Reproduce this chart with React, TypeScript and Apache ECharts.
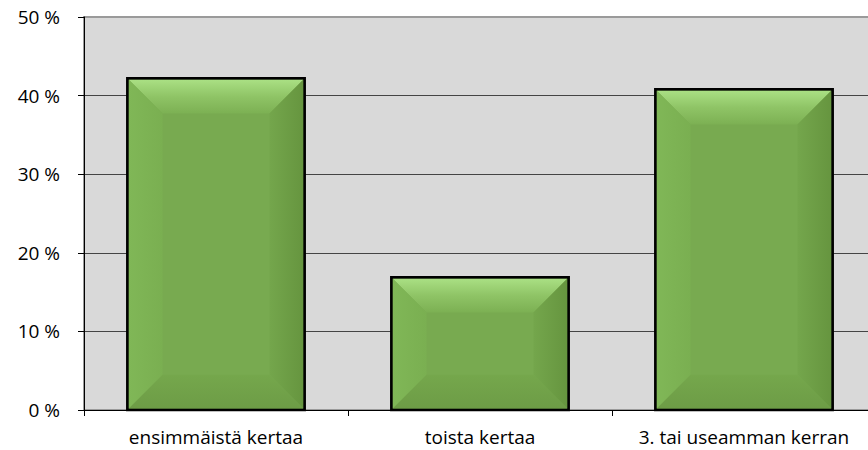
import React, { useEffect, useRef } from "react";
import * as echarts from "echarts";

const categories = ["ensimmäistä kertaa", "toista kertaa", "3. tai useamman kerran"];
const values = [42.2, 16.9, 40.8];
const yTicks = [0, 10, 20, 30, 40, 50];

const FONT = "'Open Sans', 'Liberation Sans', sans-serif";

export default function App() {
  const ref = useRef<HTMLDivElement>(null);
  useEffect(() => {
    if (!ref.current) return;
    const chart = echarts.init(ref.current, undefined, { renderer: "svg" });
    const barFrac = 0.672;
    chart.setOption({
      animation: false,
      backgroundColor: "#ffffff",
      grid: {
        left: 84,
        top: 17,
        right: 4,
        height: 393,
        show: true,
        backgroundColor: "#d9d9d9",
        borderColor: "#9a9a9a",
        borderWidth: 2,
      },
      xAxis: {
        type: "category",
        data: categories,
        boundaryGap: true,
        axisLine: { show: true, lineStyle: { color: "#000", width: 1 } },
        axisTick: { show: true, length: 6, lineStyle: { color: "#000" } },
        axisLabel: {
          color: "#000",
          fontFamily: FONT,
          fontSize: 19,
          margin: 17,
          interval: 0,
          hideOverlap: false,
        },
      },
      yAxis: {
        type: "value",
        min: yTicks[0],
        max: yTicks[yTicks.length - 1],
        interval: 10,
        axisLine: { show: true, lineStyle: { color: "#000", width: 1 } },
        axisTick: { show: true, length: 6, lineStyle: { color: "#000" } },
        axisLabel: {
          color: "#000",
          fontFamily: FONT,
          fontSize: 19,
          margin: 24,
          formatter: (v: number) => `${v} %`,
        },
        splitLine: { show: true, showMaxLine: false, lineStyle: { color: "#444", width: 1 } },
      },
      series: [
        {
          type: "bar",
          data: values,
          barWidth: barFrac * 100 + "%",
          itemStyle: { color: "#78aa50", borderColor: "#000", borderWidth: 2.5 },
          z: 2,
        },
        {
          type: "custom",
          data: values.map((v, i) => [i, v]),
          z: 3,
          silent: true,
          renderItem: (params: any, api: any) => {
            const idx = api.value(0);
            const val = api.value(1);
            const top = api.coord([idx, val]);
            const bot = api.coord([idx, 0]);
            const w = api.size([1, 0])[0] * barFrac;
            const inset = 1.25;
            const x0 = top[0] - w / 2 + inset;
            const x1 = top[0] + w / 2 - inset;
            const y0 = top[1] + inset;
            const y1 = bot[1] - inset;
            const h = y1 - y0;
            const b = Math.min(34, h / 2.2, (x1 - x0) / 2.2);
            return {
              type: "group",
              children: [
                {
                  type: "rect",
                  shape: { x: x0, y: y0, width: x1 - x0, height: h },
                  style: { fill: "#78aa50" },
                },
                {
                  type: "polygon",
                  shape: { points: [[x0, y0], [x1, y0], [x1 - b, y0 + b], [x0 + b, y0 + b]] },
                  style: {
                    fill: new echarts.graphic.LinearGradient(0, 0, 0, 1, [
                      { offset: 0, color: "#aae084" },
                      { offset: 0.5, color: "#8fc466" },
                      { offset: 1, color: "#7cb053" },
                    ]),
                  },
                },
                {
                  type: "polygon",
                  shape: { points: [[x0, y0], [x0 + b, y0 + b], [x0 + b, y1 - b], [x0, y1]] },
                  style: {
                    fill: new echarts.graphic.LinearGradient(0, 0, 1, 0, [
                      { offset: 0, color: "#80b757" },
                      { offset: 1, color: "#7aaf51" },
                    ]),
                  },
                },
                {
                  type: "polygon",
                  shape: { points: [[x1, y0], [x1, y1], [x1 - b, y1 - b], [x1 - b, y0 + b]] },
                  style: {
                    fill: new echarts.graphic.LinearGradient(0, 0, 1, 0, [
                      { offset: 0, color: "#74a64c" },
                      { offset: 1, color: "#66953f" },
                    ]),
                  },
                },
                {
                  type: "polygon",
                  shape: { points: [[x0, y1], [x0 + b, y1 - b], [x1 - b, y1 - b], [x1, y1]] },
                  style: {
                    fill: new echarts.graphic.LinearGradient(0, 0, 0, 1, [
                      { offset: 0, color: "#75a74c" },
                      { offset: 1, color: "#6d9c46" },
                    ]),
                  },
                },
                {
                  type: "rect",
                  shape: { x: x0 - inset, y: y0 - inset, width: x1 - x0 + 2 * inset, height: h + 2 * inset },
                  style: { fill: "none", stroke: "#000", lineWidth: 2.5 },
                },
              ],
            };
          },
        },
      ],
    });
    return () => chart.dispose();
  }, []);
  return (
    <div
      ref={ref}
      style={{ position: "fixed", left: 0, top: 0, width: 880, height: 450, background: "#fff" }}
    />
  );
}
